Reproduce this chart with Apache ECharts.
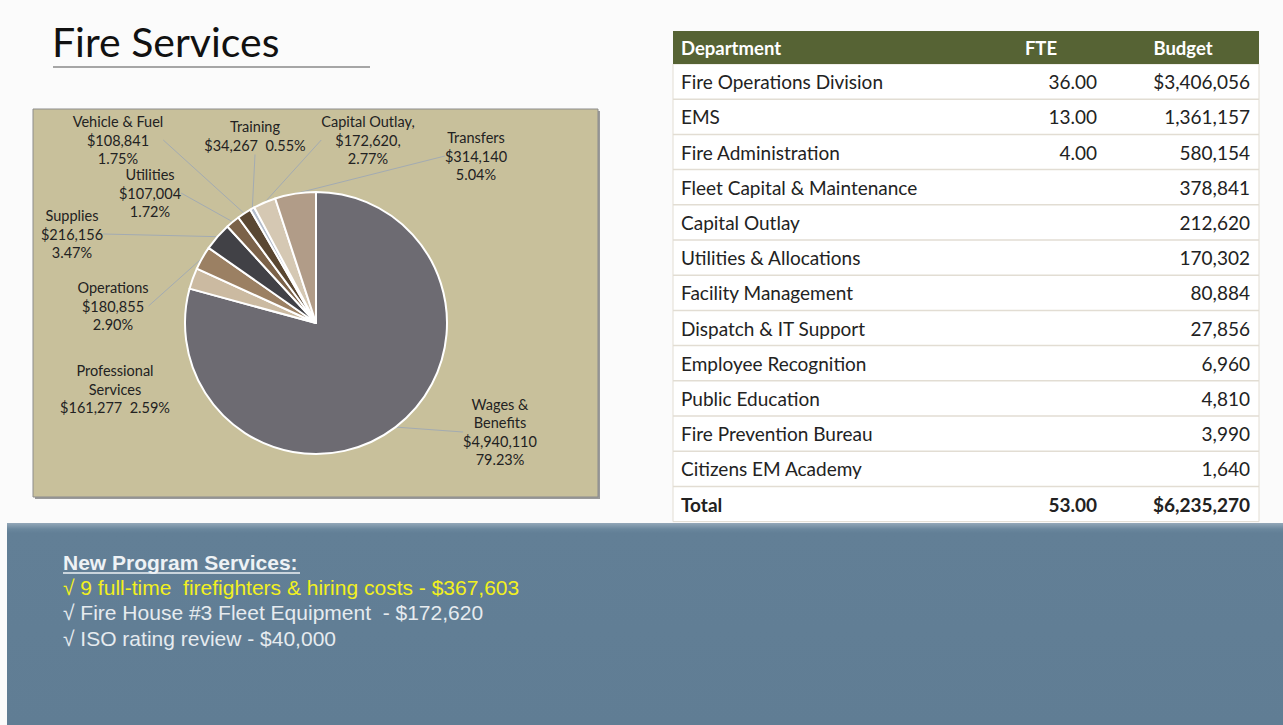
<!DOCTYPE html>
<html>
<head>
<meta charset="utf-8">
<script src="https://cdn.jsdelivr.net/npm/echarts@6/dist/echarts.min.js"></script>
<style>
html,body{margin:0;padding:0;background:#fbfbfb;}
#c{width:1283px;height:725px;}
</style>
</head>
<body>
<div id="c"></div>
<script>
// ---- Pie data ----
const pieNames = ['Wages &\nBenefits', 'Professional\nServices', 'Operations', 'Supplies', 'Utilities', 'Vehicle & Fuel', 'Training', 'Capital Outlay,', 'Transfers'];
const pieValues = [4940110, 161277, 180855, 216156, 107004, 108841, 34267, 172620, 314140];
const pieValueSuffix = ['', '', '', '', '', '', '', ',', ''];
const piePctSep = ['\n', '  ', '\n', '\n', '\n', '\n', '  ', '\n', '\n'];

// ---- Table data ----
const deptNames = ['Fire Operations Division', 'EMS', 'Fire Administration', 'Fleet Capital & Maintenance', 'Capital Outlay', 'Utilities & Allocations', 'Facility Management', 'Dispatch & IT Support', 'Employee Recognition', 'Public Education', 'Fire Prevention Bureau', 'Citizens EM Academy'];
const deptFTE = ['36.00', '13.00', '4.00', '', '', '', '', '', '', '', '', ''];
const deptBudget = ['$3,406,056', '1,361,157', '580,154', '378,841', '212,620', '170,302', '80,884', '27,856', '6,960', '4,810', '3,990', '1,640'];
const totalRow = ['Total', '53.00', '$6,235,270'];
const tableHeader = ['Department', 'FTE', 'Budget'];

// ---- Notes ----
const notesTitle = 'New Program Services:';
const notes = ['\u221A 9 full-time  firefighters & hiring costs - $367,603', '\u221A Fire House #3 Fleet Equipment  - $172,620', '\u221A ISO rating review - $40,000'];

// ---- styles / layout ----
const pieColors = ['#6d6b72', '#cbbaa1', '#9b8063', '#414146', '#7b6249', '#5a4732', '#b3bccb', '#d5c8b3', '#b19c88'];
const labelPos = [[500, 432], [115, 389], [113, 306], [72, 234], [150, 193], [118, 140], [255, 136], [368, 140], [476, 156]];

const total = pieValues.reduce((a, b) => a + b, 0);
function money(v) { return '$' + v.toString().replace(/\B(?=(\d{3})+(?!\d))/g, ','); }

const pieData = pieNames.map((n, i) => ({
  name: n,
  value: pieValues[i],
  itemStyle: { color: pieColors[i] },
  label: { formatter: n + '\n' + money(pieValues[i]) + pieValueSuffix[i] + piePctSep[i] + (pieValues[i] / total * 100).toFixed(2) + '%' },
  labelLine: { show: i !== 1 }
}));

const FONT = 'Lato, "Open Sans", sans-serif';
const NFONT = '"Liberation Sans", Arial, sans-serif';
const graphics = [];
// chart box
graphics.push({ type: 'rect', shape: { x: 35, y: 111, width: 565, height: 388 }, style: { fill: '#9a9a9a' }, z: -12 });
graphics.push({ type: 'rect', shape: { x: 33, y: 109, width: 565, height: 388 }, style: { fill: '#c8c09b', stroke: '#8c8c8c', lineWidth: 1 }, z: -11 });
// title
graphics.push({ type: 'text', style: { text: 'Fire Services', x: 52, y: 41, font: '41px ' + FONT, fill: '#111', verticalAlign: 'middle' } });
graphics.push({ type: 'line', shape: { x1: 53, y1: 67, x2: 370, y2: 67 }, style: { stroke: '#8a8a8a', lineWidth: 1.5 } });

// table
const tX = 673, tW = 586, hY = 31, hH = 33, rH = 35.2;
const colFTE = 1097, colBud = 1250, colDept = 681;
graphics.push({ type: 'rect', shape: { x: tX, y: hY + hH, width: tW, height: rH * 13 }, style: { fill: '#ffffff', stroke: '#e2ddd3', lineWidth: 1 }, z: -5 });
graphics.push({ type: 'rect', shape: { x: tX, y: hY, width: tW, height: hH }, style: { fill: '#566334' }, z: -4 });
graphics.push({ type: 'text', style: { text: tableHeader[0], x: colDept, y: hY + hH / 2, font: 'bold 18.5px ' + FONT, fill: '#fff', verticalAlign: 'middle' } });
graphics.push({ type: 'text', style: { text: tableHeader[1], x: 1041, y: hY + hH / 2, font: 'bold 18.5px ' + FONT, fill: '#fff', verticalAlign: 'middle', align: 'center' } });
graphics.push({ type: 'text', style: { text: tableHeader[2], x: 1183, y: hY + hH / 2, font: 'bold 18.5px ' + FONT, fill: '#fff', verticalAlign: 'middle', align: 'center' } });
const rows = deptNames.map((d, i) => [d, deptFTE[i], deptBudget[i]]).concat([totalRow]);
rows.forEach((r, i) => {
  const y0 = hY + hH + i * rH;
  const cy = y0 + rH / 2;
  const bold = i === rows.length - 1 ? 'bold ' : '';
  if (i > 0) graphics.push({ type: 'line', shape: { x1: tX, y1: y0, x2: tX + tW, y2: y0 }, style: { stroke: '#e2ddd3', lineWidth: 1.5 } });
  graphics.push({ type: 'text', style: { text: r[0], x: colDept, y: cy, font: bold + '19px ' + FONT, fill: '#222', verticalAlign: 'middle' } });
  graphics.push({ type: 'text', style: { text: r[1], x: colFTE, y: cy, font: bold + '19px ' + FONT, fill: '#222', verticalAlign: 'middle', align: 'right' } });
  graphics.push({ type: 'text', style: { text: r[2], x: colBud, y: cy, font: bold + '19px ' + FONT, fill: '#222', verticalAlign: 'middle', align: 'right' } });
});

// bottom band
graphics.push({ type: 'rect', shape: { x: 7, y: 523, width: 1276, height: 202 }, style: { fill: new echarts.graphic.LinearGradient(0, 0, 0, 1, [{ offset: 0, color: '#93a7b8' }, { offset: 0.03, color: '#6a879d' }, { offset: 0.05, color: '#627f96' }, { offset: 1, color: '#607d94' }]) }, z: -20 });
graphics.push({ type: 'text', style: { text: notesTitle, x: 63, y: 562, font: 'bold 21px ' + NFONT, fill: '#eef2f5', verticalAlign: 'middle' } });
graphics.push({ type: 'line', shape: { x1: 63, y1: 573, x2: 300, y2: 573 }, style: { stroke: '#eef2f5', lineWidth: 1.5 } });
notes.forEach((t, i) => {
  graphics.push({ type: 'text', style: { text: t, x: 63, y: 587 + i * 25.5, font: '21px ' + NFONT, fill: i === 0 ? '#f2f01e' : '#e6ebef', verticalAlign: 'middle' } });
});

const chart = echarts.init(document.getElementById('c'), null, { renderer: 'svg' });
chart.setOption({
  animation: false,
  graphic: graphics,
  series: [{
    type: 'pie',
    center: [316, 323],
    radius: 131,
    startAngle: 90,
    clockwise: true,
    data: pieData,
    itemStyle: { borderColor: '#ffffff', borderWidth: 2 },
    label: { show: true, position: 'outside', color: '#222222', fontSize: 14.5, fontFamily: FONT, lineHeight: 18.5, align: 'center' },
    labelLine: { show: true, length: 10, length2: 0, lineStyle: { color: '#a3abb2', width: 1 } },
    labelLayout: function (p) {
      const pos = labelPos[p.dataIndex];
      return { x: pos[0], y: pos[1], align: 'center', verticalAlign: 'middle', hideOverlap: false, moveOverlap: false };
    },
    emphasis: { disabled: true }
  }]
});
</script>
</body>
</html>
